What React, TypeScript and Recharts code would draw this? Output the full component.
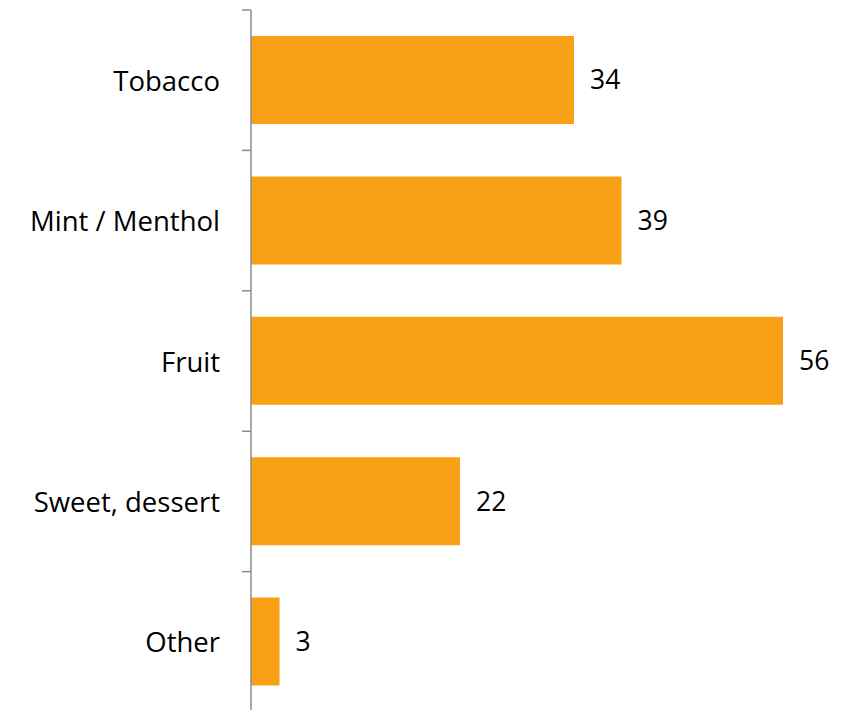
import React from 'react';
import { BarChart, Bar, XAxis, YAxis, LabelList } from 'recharts';

const categories = ['Tobacco', 'Mint / Menthol', 'Fruit', 'Sweet, dessert', 'Other'];
const values = [34, 39, 56, 22, 3];

const data = categories.map((name, i) => ({ name, value: values[i] }));

const WIDTH = 845;
const HEIGHT = 704;
const MARGIN = { top: 2, right: 32, bottom: 0, left: 0 };
const BAND = (HEIGHT - MARGIN.top - MARGIN.bottom) / categories.length;
const FONT = '"Open Sans", sans-serif';

const CategoryTick = (props: any) => {
  const { x, y, payload } = props;
  const axisX = x + 31;
  return (
    <g>
      <text x={x} y={y} textAnchor="end" dominantBaseline="central" fontFamily={FONT} fontSize={27.5} fill="#000">
        {payload.value}
      </text>
      <line x1={axisX - 9} x2={axisX} y1={y - BAND / 2} y2={y - BAND / 2} stroke="#8c8c8c" strokeWidth={1.5} />
    </g>
  );
};

export default function App() {
  return (
    <BarChart width={WIDTH} height={HEIGHT} data={data} layout="vertical" margin={MARGIN}>
      <XAxis type="number" domain={[0, 60]} hide />
      <YAxis
        type="category"
        dataKey="name"
        width={243}
        axisLine={{ stroke: '#8c8c8c', strokeWidth: 1.5 }}
        tickLine={false}
        tickMargin={25}
        tick={<CategoryTick />}
        interval={0}
      />
      <Bar dataKey="value" fill="#F9A114" barSize={88} isAnimationActive={false}>
        <LabelList dataKey="value" position="right" offset={16} fontFamily={FONT} fontSize={26.5} fill="#000" />
      </Bar>
    </BarChart>
  );
}
